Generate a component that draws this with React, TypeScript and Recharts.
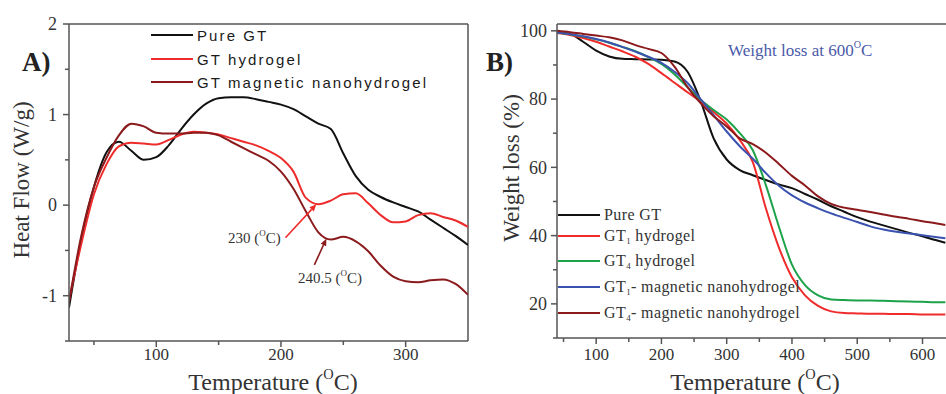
import { LineChart, Line, XAxis, YAxis, ReferenceLine } from 'recharts';

// Panel A: DSC heat flow
const heatTemps = [30, 40, 50, 60, 70, 80, 90, 100, 110, 120, 130, 140, 150, 160, 170, 180, 190, 200, 210, 220, 230, 240, 250, 260, 270, 280, 290, 300, 310, 320, 330, 340, 350];
const pureGtHeat = [-1.13, -0.36, 0.2, 0.58, 0.7, 0.6, 0.5, 0.53, 0.66, 0.84, 1.0, 1.12, 1.18, 1.19, 1.19, 1.17, 1.14, 1.11, 1.06, 0.98, 0.9, 0.84, 0.57, 0.32, 0.17, 0.09, 0.03, -0.02, -0.07, -0.16, -0.25, -0.34, -0.44];
const gtHydrogelHeat = [-1.05, -0.42, 0.12, 0.45, 0.65, 0.69, 0.68, 0.67, 0.72, 0.78, 0.81, 0.8, 0.78, 0.74, 0.7, 0.66, 0.6, 0.52, 0.37, 0.08, 0.01, 0.05, 0.12, 0.13, 0.02, -0.11, -0.19, -0.18, -0.11, -0.09, -0.13, -0.17, -0.24];
const gtMagneticHeat = [-1.07, -0.33, 0.2, 0.52, 0.77, 0.9, 0.87, 0.8, 0.79, 0.79, 0.8, 0.8, 0.77, 0.7, 0.63, 0.56, 0.49, 0.37, 0.18, -0.07, -0.3, -0.38, -0.35, -0.4, -0.51, -0.67, -0.79, -0.84, -0.85, -0.83, -0.82, -0.87, -0.99];
const heatXTicks = [50, 100, 150, 200, 250, 300];
const heatXLabels = [100, 200, 300];
const heatYTicks = [-1.5, -1, -0.5, 0, 0.5, 1, 1.5, 2];
const heatYLabels = [-1, 0, 1, 2];
const arrow230 = [{ x: 203.6, y: -0.36 }, { x: 228.4, y: 0.01 }];
const arrow240 = [{ x: 226.8, y: -0.66 }, { x: 236.4, y: -0.37 }];

// Panel B: TGA weight loss
const tgaTemps = [40, 60, 80, 100, 120, 140, 160, 180, 200, 220, 240, 260, 280, 300, 320, 340, 360, 380, 400, 420, 440, 460, 480, 500, 520, 540, 560, 580, 600, 620, 635];
const pureGtWeight = [99.6, 99.1, 96.8, 94.2, 92.5, 91.8, 91.7, 91.6, 91.5, 91, 88, 79.5, 68.5, 62.3, 59.2, 57.7, 56.3, 55, 53.9, 52.2, 50.5, 48.6, 47, 45.4, 44.1, 43, 41.9, 40.8, 39.8, 38.7, 37.9];
const gt1HydrogelWeight = [99.4, 98.8, 97.9, 96.8, 95.4, 94, 92.4, 90.3, 87.6, 84.8, 82, 79.3, 76.2, 72.8, 68, 61.5, 48, 36.5, 27.8, 22.5, 19.4, 17.8, 17.3, 17.2, 17.1, 17.1, 17, 17, 16.9, 16.9, 16.9];
const gt4HydrogelWeight = [99.5, 99, 98.3, 97.5, 96.5, 95.3, 94, 92.3, 90.3, 87.3, 83.5, 79.8, 76.8, 74, 70, 65, 54.8, 42.6, 31.5, 25.5, 22.5, 21.3, 21.1, 21, 21, 20.9, 20.8, 20.7, 20.6, 20.5, 20.5];
const gt1MagneticWeight = [99.5, 99, 98.4, 97.6, 96.6, 95.3, 93.9, 92.4, 90.6, 88, 84.7, 80, 75.3, 70.5, 66.2, 62.5, 58.3, 54.6, 51.8, 49.7, 48, 46.5, 45.2, 44, 42.7, 41.8, 41.1, 40.6, 40.1, 39.6, 39.2];
const gt4MagneticWeight = [100, 99.6, 99.1, 98.6, 98.1, 97.2, 95.8, 94.7, 93.5, 89.5, 83.5, 78.8, 75, 72, 68.5, 66.8, 64.3, 61, 57.5, 54.7, 51.5, 49.3, 48.2, 47.6, 46.9, 46.2, 45.5, 44.9, 44.2, 43.6, 43.1];
const tgaXTicks = [50, 100, 150, 200, 250, 300, 350, 400, 450, 500, 550, 600];
const tgaXLabels = [100, 200, 300, 400, 500, 600];
const tgaYTicks = [10, 20, 30, 40, 50, 60, 70, 80, 90, 100];
const tgaYLabels = [20, 40, 60, 80, 100];

const heatData = heatTemps.map((t, i) => ({
  t,
  pure: pureGtHeat[i],
  hydrogel: gtHydrogelHeat[i],
  magnetic: gtMagneticHeat[i],
}));

const tgaData = tgaTemps.map((t, i) => ({
  t,
  pure: pureGtWeight[i],
  gt1: gt1HydrogelWeight[i],
  gt4: gt4HydrogelWeight[i],
  gt1m: gt1MagneticWeight[i],
  gt4m: gt4MagneticWeight[i],
}));

const SERIF = '"Liberation Serif", "Times New Roman", serif';
const SANS = '"Liberation Sans", Arial, sans-serif';
const AXIS = '#555';
const TEXT = '#333';

function xTick(labels: number[], fontSize: number, gap: number) {
  return (props: any) => {
    const { x, y, payload } = props;
    const major = labels.includes(payload.value);
    return (
      <g>
        <line x1={x} y1={y} x2={x} y2={y + (major ? 6 : 4)} stroke={AXIS} strokeWidth={1.5} />
        {major && (
          <text x={x} y={y + gap} textAnchor="middle" fontFamily={SERIF} fontSize={fontSize} fill={TEXT}>
            {payload.value}
          </text>
        )}
      </g>
    );
  };
}

function yTick(labels: number[], fontSize: number, gap: number) {
  return (props: any) => {
    const { x, y, payload } = props;
    const major = labels.includes(payload.value);
    return (
      <g>
        <line x1={x} y1={y} x2={x - (major ? 6 : 4)} y2={y} stroke={AXIS} strokeWidth={1.5} />
        {major && (
          <text x={x - gap} y={y} dy="0.35em" textAnchor="end" fontFamily={SERIF} fontSize={fontSize} fill={TEXT}>
            {payload.value}
          </text>
        )}
      </g>
    );
  };
}

function Arrow(props: any) {
  const { x1, y1, x2, y2, stroke } = props;
  const a = Math.atan2(y2 - y1, x2 - x1);
  const len = 7;
  const w = 3;
  const bx = x2 - len * Math.cos(a);
  const by = y2 - len * Math.sin(a);
  const px = -Math.sin(a) * w;
  const py = Math.cos(a) * w;
  return (
    <g>
      <line x1={x1} y1={y1} x2={bx} y2={by} stroke={stroke} strokeWidth={1.6} />
      <polygon points={`${x2},${y2} ${bx + px},${by + py} ${bx - px},${by - py}`} fill={stroke} />
    </g>
  );
}

const abs = (left: number, top: number, extra: React.CSSProperties = {}): React.CSSProperties => ({
  position: 'absolute',
  left,
  top,
  whiteSpace: 'nowrap',
  ...extra,
});

function LegendRow({ color, top, left, children, font }: { color: string; top: number; left: number; children: React.ReactNode; font: React.CSSProperties }) {
  return (
    <div style={abs(left, top - 10, { display: 'flex', alignItems: 'center', height: 20 })}>
      <div style={{ width: 42, height: 2, background: color, marginRight: 4 }} />
      <span style={font}>{children}</span>
    </div>
  );
}

function Sub({ children }: { children: React.ReactNode }) {
  return <span style={{ fontSize: '0.55em', verticalAlign: '-0.3em' }}>{children}</span>;
}

function Deg() {
  return <span style={{ fontSize: '0.6em', verticalAlign: '0.75em' }}>O</span>;
}

export default function App() {
  const legendA: React.CSSProperties = { fontFamily: SANS, fontSize: 15, letterSpacing: 2.1, color: '#1a1a1a' };
  const legendB: React.CSSProperties = { fontFamily: SERIF, fontSize: 16, letterSpacing: 0.4, color: '#333' };
  return (
    <div style={{ position: 'absolute', left: 0, top: 0, width: 946, height: 394, background: '#fff', overflow: 'hidden' }}>
      <div style={abs(0, 0)}>
        <LineChart width={473} height={394} data={heatData} margin={{ top: 24, right: 5, bottom: 0, left: 0 }}>
          <XAxis
            dataKey="t"
            type="number"
            domain={[30, 350]}
            ticks={heatXTicks}
            height={53}
            stroke={AXIS}
            strokeWidth={1.5}
            tickSize={0}
            tickMargin={0}
            tickLine={false}
            tick={xTick(heatXLabels, 17, 19)}
            allowDataOverflow
          />
          <YAxis
            type="number"
            domain={[-1.5, 2]}
            ticks={heatYTicks}
            width={69}
            stroke={AXIS}
            strokeWidth={1.5}
            tickSize={0}
            tickMargin={0}
            tickLine={false}
            tick={yTick(heatYLabels, 18, 12)}
            allowDataOverflow
          />
          <ReferenceLine y={2} stroke={AXIS} strokeWidth={1.5} />
          <ReferenceLine x={350} stroke={AXIS} strokeWidth={1.5} />
          <Line type="monotone" dataKey="pure" stroke="#111" strokeWidth={2} dot={false} isAnimationActive={false} />
          <Line type="monotone" dataKey="hydrogel" stroke="#ee2b2b" strokeWidth={2} dot={false} isAnimationActive={false} />
          <Line type="monotone" dataKey="magnetic" stroke="#8b1a1c" strokeWidth={2} dot={false} isAnimationActive={false} />
          <ReferenceLine segment={arrow230} stroke="#ee2b2b" shape={Arrow} />
          <ReferenceLine segment={arrow240} stroke="#8b1a1c" shape={Arrow} />
        </LineChart>
      </div>

      <div style={abs(473, 0)}>
        <LineChart width={473} height={394} data={tgaData} margin={{ top: 24, right: 0, bottom: 0, left: 0 }}>
          <XAxis
            dataKey="t"
            type="number"
            domain={[40, 636]}
            ticks={tgaXTicks}
            height={56}
            stroke={AXIS}
            strokeWidth={1.5}
            tickSize={0}
            tickMargin={0}
            tickLine={false}
            tick={xTick(tgaXLabels, 17, 22)}
            allowDataOverflow
          />
          <YAxis
            type="number"
            domain={[10, 102]}
            ticks={tgaYTicks}
            width={84}
            stroke={AXIS}
            strokeWidth={1.5}
            tickSize={0}
            tickMargin={0}
            tickLine={false}
            tick={yTick(tgaYLabels, 18, 10)}
            allowDataOverflow
          />
          <ReferenceLine y={102} stroke={AXIS} strokeWidth={1.5} />
          <Line type="monotone" dataKey="pure" stroke="#111" strokeWidth={2} dot={false} isAnimationActive={false} />
          <Line type="monotone" dataKey="gt1" stroke="#ef2b2b" strokeWidth={2} dot={false} isAnimationActive={false} />
          <Line type="monotone" dataKey="gt4" stroke="#1ca34a" strokeWidth={2} dot={false} isAnimationActive={false} />
          <Line type="monotone" dataKey="gt1m" stroke="#3b52b0" strokeWidth={2} dot={false} isAnimationActive={false} />
          <Line type="monotone" dataKey="gt4m" stroke="#8b1a1c" strokeWidth={2} dot={false} isAnimationActive={false} />
        </LineChart>
      </div>

      {/* panel A texts */}
      <div style={abs(22, 47, { fontFamily: SERIF, fontWeight: 'bold', fontSize: 27, color: '#222' })}>A)</div>
      <div style={abs(22, 180, { fontFamily: SERIF, fontSize: 23, color: TEXT, transform: 'translate(-50%, -50%) rotate(-90deg)' })}>Heat Flow (W/g)</div>
      <div style={abs(273, 381, { fontFamily: SERIF, fontSize: 24, color: TEXT, transform: 'translate(-50%, -50%)' })}>
        Temperature (<Deg />C)
      </div>
      <LegendRow color="#111" top={35} left={151} font={legendA}>Pure GT</LegendRow>
      <LegendRow color="#ee2b2b" top={59} left={151} font={legendA}>GT hydrogel</LegendRow>
      <LegendRow color="#8b1a1c" top={82} left={151} font={legendA}>GT magnetic nanohydrogel</LegendRow>
      <div style={abs(228, 228, { fontFamily: SERIF, fontSize: 15, color: TEXT })}>
        230 (<Deg />C)
      </div>
      <div style={abs(298, 268, { fontFamily: SERIF, fontSize: 15, color: TEXT })}>
        240.5 (<Deg />C)
      </div>

      {/* panel B texts */}
      <div style={abs(486, 47, { fontFamily: SERIF, fontWeight: 'bold', fontSize: 27, color: '#222' })}>B)</div>
      <div style={abs(512, 168, { fontFamily: SERIF, fontSize: 23, color: TEXT, transform: 'translate(-50%, -50%) rotate(-90deg)' })}>Weight loss (%)</div>
      <div style={abs(755, 381, { fontFamily: SERIF, fontSize: 24, color: TEXT, transform: 'translate(-50%, -50%)' })}>
        Temperature (<Deg />C)
      </div>
      <div style={abs(728, 39, { fontFamily: SERIF, fontSize: 17, color: '#4b5aa8' })}>
        Weight loss at 600<Deg />C
      </div>
      <LegendRow color="#111" top={215} left={558} font={legendB}>Pure GT</LegendRow>
      <LegendRow color="#ef2b2b" top={236} left={558} font={legendB}>GT<Sub>1</Sub> hydrogel</LegendRow>
      <LegendRow color="#1ca34a" top={261} left={558} font={legendB}>GT<Sub>4</Sub> hydrogel</LegendRow>
      <LegendRow color="#3b52b0" top={287} left={558} font={legendB}>GT<Sub>1</Sub>- magnetic nanohydrogel</LegendRow>
      <LegendRow color="#8b1a1c" top={313} left={558} font={legendB}>GT<Sub>4</Sub>- magnetic nanohydrogel</LegendRow>
    </div>
  );
}
